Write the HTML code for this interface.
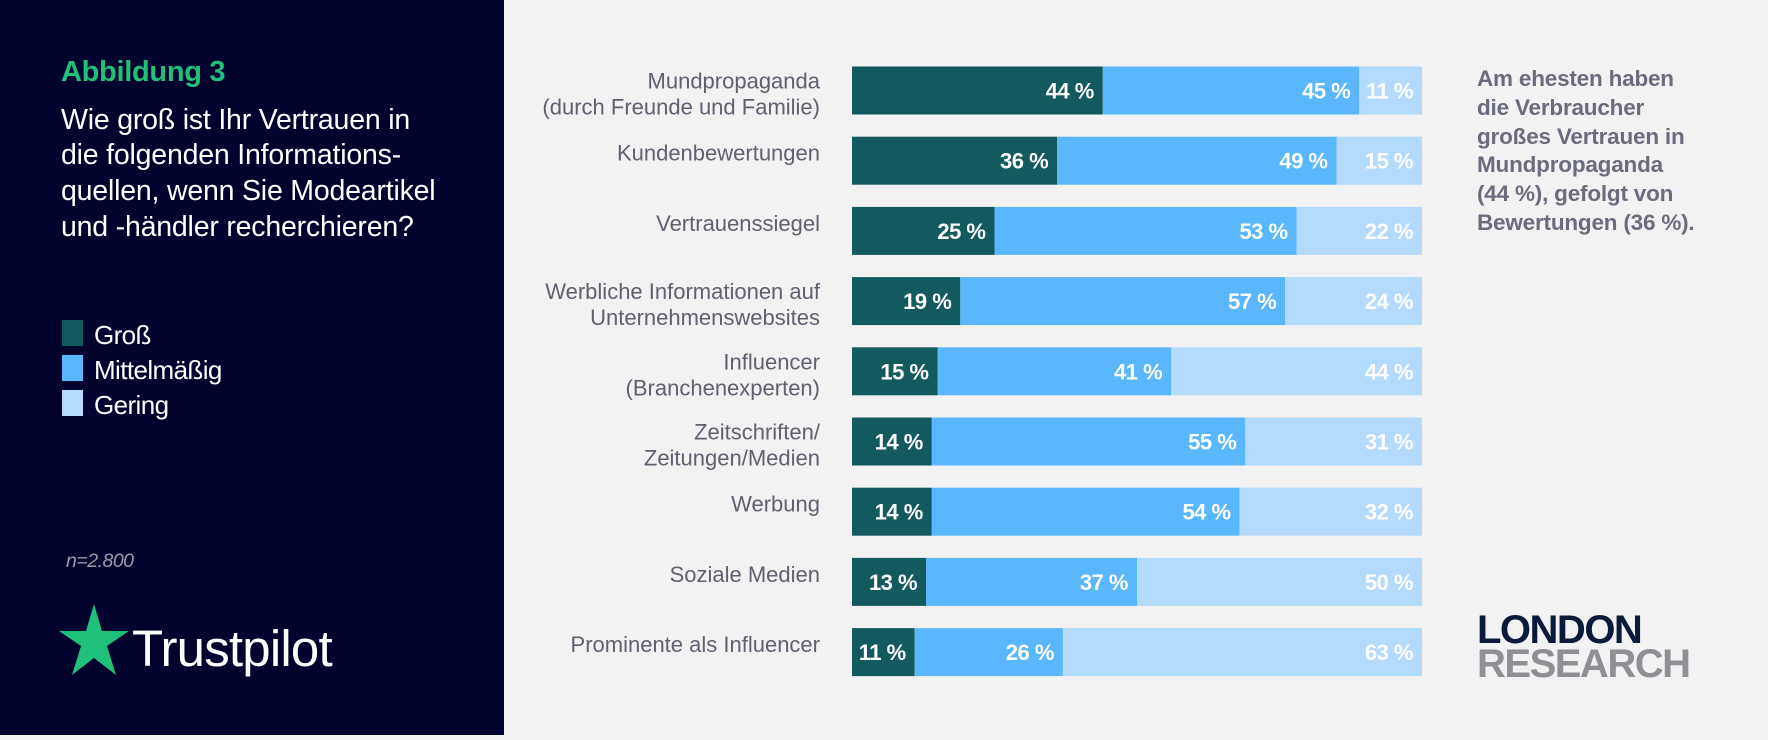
<!DOCTYPE html>
<html><head><meta charset="utf-8">
<style>
body{margin:0;width:1768px;height:735px;overflow:hidden;background:#f2f2f2;font-family:"Liberation Sans",sans-serif}
</style></head>
<body>
<svg width="1768" height="735" xmlns="http://www.w3.org/2000/svg" font-family="Liberation Sans, sans-serif">
<rect x="0" y="0" width="1768" height="735" fill="#f2f2f2"/>
<rect x="0" y="0" width="504" height="735" fill="#02022e"/>
<text x="61" y="81" font-size="29" font-weight="bold" fill="#1ec07a" letter-spacing="-0.3">Abbildung 3</text>
<g font-size="28.5" fill="#ffffff" letter-spacing="-0.2">
<text x="61" y="129">Wie groß ist Ihr Vertrauen in</text>
<text x="61" y="164">die folgenden Informations-</text>
<text x="61" y="200">quellen, wenn Sie Modeartikel</text>
<text x="61" y="236">und -händler recherchieren?</text>
</g>
<g>
<rect x="62" y="320" width="21" height="26" fill="#135a5e"/>
<text x="94" y="344" font-size="26" letter-spacing="-0.6" fill="#fff">Groß</text>
<rect x="62" y="355" width="21" height="26" fill="#5ab6fd"/>
<text x="94" y="379" font-size="26" letter-spacing="-0.6" fill="#fff">Mittelmäßig</text>
<rect x="62" y="390" width="21" height="26" fill="#b2dbfd"/>
<text x="94" y="414" font-size="26" letter-spacing="-0.6" fill="#fff">Gering</text>
</g>
<text x="66" y="567" font-size="19.5" font-style="italic" letter-spacing="-0.5" fill="#9a9aa8">n=2.800</text>
<polygon points="94,604 102,631 129,631 107,646 116,675 94,658 72,675 81,646 59,631 86,631" fill="#1ec07a"/>
<text x="132" y="666" font-size="51" fill="#fff" letter-spacing="-0.8">Trustpilot</text>
<g id="bars"></g>
<g font-size="22.5" font-weight="bold" fill="#6b6b7e" letter-spacing="-0.2">
<text x="1477" y="86">Am ehesten haben</text>
<text x="1477" y="115">die Verbraucher</text>
<text x="1477" y="144">großes Vertrauen in</text>
<text x="1477" y="172">Mundpropaganda</text>
<text x="1477" y="201">(44 %), gefolgt von</text>
<text x="1477" y="230">Bewertungen (36 %).</text>
</g>
<g font-weight="900" font-size="40" letter-spacing="-1.5">
<text x="1477" y="643" fill="#0b1a3a">LONDON</text>
<text x="1477" y="677" fill="#8f8f96">RESEARCH</text>
</g>
</svg>
<script>
const categories = [["Mundpropaganda","(durch Freunde und Familie)"],["Kundenbewertungen"],["Vertrauenssiegel"],["Werbliche Informationen auf","Unternehmenswebsites"],["Influencer","(Branchenexperten)"],["Zeitschriften/","Zeitungen/Medien"],["Werbung"],["Soziale Medien"],["Prominente als Influencer"]];
const gross = [44,36,25,19,15,14,14,13,11];
const mittel = [45,49,53,57,41,55,54,37,26];
const gering = [11,15,22,24,44,31,32,50,63];
const NS="http://www.w3.org/2000/svg";
const g=document.getElementById('bars');
const x0=852,x1=1422;
const xs=v=>v/100*(x1-x0);
const yTop=i=>66.5+i*70.2;
const bh=48;
function el(t,a){const e=document.createElementNS(NS,t);for(const k in a)e.setAttribute(k,a[k]);g.appendChild(e);return e;}
categories.forEach((c,i)=>{
  const y=yTop(i);
  const tot=gross[i]+mittel[i]+gering[i];
  const segs=[[gross[i],'#135a5e','gross'],[mittel[i],'#5ab6fd','mittel'],[gering[i],'#b2dbfd','gering']];
  let cx=x0;
  segs.forEach(s=>{
    const w=xs(s[0]*100/tot);
    const r=el('rect',{x:cx,y:y,width:w,height:bh,fill:s[1]});
    
    
    const t=el('text',{x:cx+w-9,y:y+bh/2+8,'text-anchor':'end','font-size':22,'font-weight':'bold','letter-spacing':'-0.5',fill:'#fff'});
    t.textContent=s[0]+' %';
    
    
    cx+=w;
  });
  const t=el('text',{x:820,'text-anchor':'end','font-size':22,'letter-spacing':'0',fill:'#5f6070'});
  
  
  const startY = c.length===1 ? y+bh/2 : y+22;
  c.forEach((ln,j)=>{const s=document.createElementNS(NS,'tspan');s.setAttribute('x',820);s.setAttribute('y',startY+j*26);s.textContent=ln;t.appendChild(s);});
});
</script>
</body></html>
